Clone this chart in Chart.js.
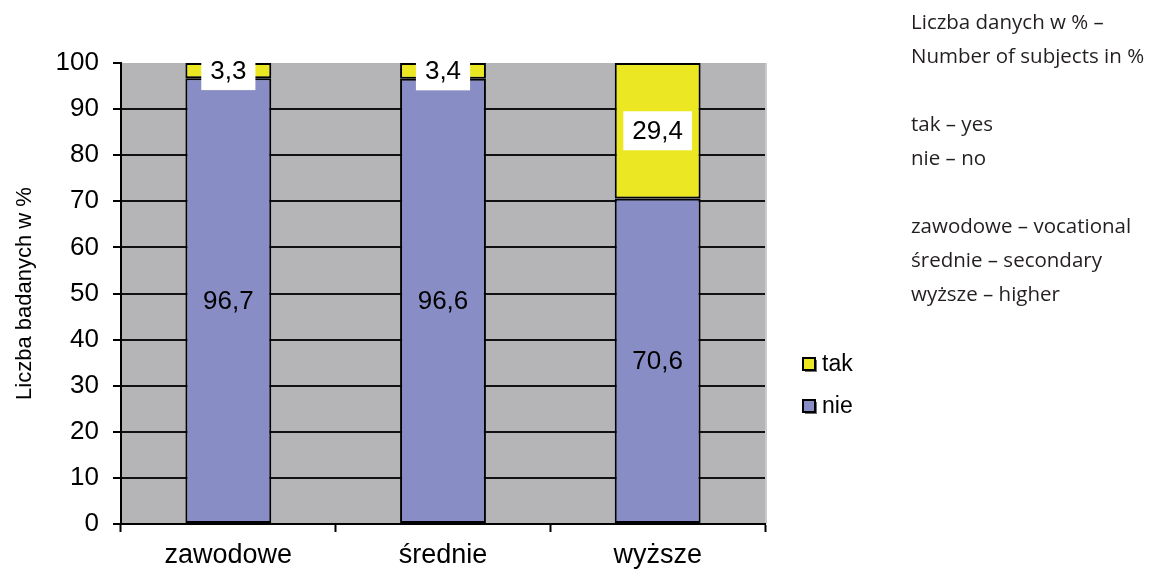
<!DOCTYPE html>
<html>
<head>
<meta charset="utf-8">
<script src="https://cdn.jsdelivr.net/npm/chart.js@4/dist/chart.umd.min.js"></script>
<style>
  html, body { margin: 0; padding: 0; background: #fff; }
  #wrap { position: relative; width: 1163px; height: 573px; }
  #c { position: absolute; left: 0; top: 0; }
  #notes {
    position: absolute; left: 911px; top: 4px;
    font-family: "Open Sans", Lato, sans-serif; font-size: 20.5px;
    line-height: 34px; color: #231f20; white-space: pre;
  }
</style>
</head>
<body>
<div id="wrap">
  <canvas id="c" width="1163" height="573"></canvas>
  <div id="notes">Liczba danych w % –
Number of subjects in %

tak – yes
nie – no

zawodowe – vocational
średnie – secondary
wyższe – higher</div>
</div>
<script>
// education level categories and answer shares (%)
const categories = ['zawodowe', 'średnie', 'wyższe'];
const nieValues = [96.7, 96.6, 70.6];
const takValues = [3.3, 3.4, 29.4];
const yTicks = [0, 10, 20, 30, 40, 50, 60, 70, 80, 90, 100];

const FONT = '"Liberation Sans", Arial, sans-serif';

// grey plot background
const plotBackground = {
  id: 'plotBackground',
  beforeDraw(chart) {
    const { ctx, chartArea: a } = chart;
    ctx.save();
    ctx.fillStyle = '#b5b5b7';
    ctx.fillRect(a.left, a.top, a.right - a.left, a.bottom - a.top);
    ctx.fillStyle = '#c9c9cb';
    ctx.fillRect(a.right, a.top, 2, a.bottom - a.top);
    ctx.restore();
  }
};

// value labels centred in each segment, decimal comma
const segmentLabels = {
  id: 'segmentLabels',
  afterDatasetsDraw(chart) {
    const { ctx } = chart;
    ctx.save();
    ctx.font = '26px ' + FONT;
    ctx.textAlign = 'center';
    ctx.textBaseline = 'middle';
    chart.data.datasets.forEach((ds, i) => {
      const meta = chart.getDatasetMeta(i);
      meta.data.forEach((bar, j) => {
        const text = String(ds.data[j]).replace('.', ',');
        const cx = bar.x;
        const cy = (bar.y + bar.base) / 2;
        if (ds.labelBox) {
          const w = ctx.measureText(text).width + 18;
          const h = 39;
          ctx.fillStyle = '#ffffff';
          ctx.fillRect(cx - w / 2, cy - h / 2, w, h);
        }
        ctx.fillStyle = '#000000';
        ctx.fillText(text, cx, cy + 1);
      });
    });
    ctx.restore();
  }
};

// legend on the right of the plot, top series first
const sideLegend = {
  id: 'sideLegend',
  afterDraw(chart) {
    const { ctx } = chart;
    const items = chart.data.datasets.slice().reverse();
    ctx.save();
    ctx.font = '23px ' + FONT;
    ctx.textBaseline = 'middle';
    items.forEach((ds, k) => {
      const x = 803, y = 365 + k * 42;
      ctx.fillStyle = '#6e6e6e';
      ctx.fillRect(x + 2, y - 5, 12, 12);
      ctx.fillStyle = ds.backgroundColor;
      ctx.fillRect(x, y - 7, 12, 12);
      ctx.lineWidth = 2;
      ctx.strokeStyle = '#000';
      ctx.strokeRect(x, y - 7, 12, 12);
      ctx.fillStyle = '#000';
      ctx.fillText(ds.label, x + 19, y);
    });
    ctx.restore();
  }
};

new Chart(document.getElementById('c'), {
  type: 'bar',
  data: {
    labels: categories,
    datasets: [
      {
        label: 'nie', data: nieValues,
        backgroundColor: '#888dc5', borderColor: '#000', borderWidth: 2,
        borderSkipped: false, barPercentage: 0.4, categoryPercentage: 1
      },
      {
        label: 'tak', data: takValues, labelBox: true,
        backgroundColor: '#ebe823', borderColor: '#000', borderWidth: 2,
        borderSkipped: false, barPercentage: 0.4, categoryPercentage: 1
      }
    ]
  },
  options: {
    responsive: false,
    animation: false,
    layout: { padding: { left: 0, top: 63, right: 398, bottom: 0 } },
    plugins: { legend: { display: false }, tooltip: { enabled: false } },
    scales: {
      x: {
        stacked: true,
        afterFit(s) { s.height = 49; },
        border: { color: '#000', width: 2 },
        grid: { drawOnChartArea: false, drawTicks: true, tickLength: 8, tickColor: '#000', tickWidth: 2 },
        ticks: { color: '#000', font: { family: FONT, size: 27 }, padding: 7 }
      },
      y: {
        stacked: true, min: 0, max: 100,
        afterFit(s) { s.width = 121; },
        afterBuildTicks(s) { s.ticks = yTicks.map(v => ({ value: v })); },
        border: { color: '#000', width: 2 },
        grid: {
          color: ctx => (ctx.tick && (ctx.tick.value === 100 || ctx.tick.value === 0)) ? 'rgba(0,0,0,0)' : '#111',
          lineWidth: 2, tickLength: 8, tickColor: '#000', tickWidth: 2
        },
        ticks: { color: '#000', font: { family: FONT, size: 26 }, padding: 14 },
        title: {
          display: true, text: 'Liczba badanych w %', color: '#000',
          font: { family: FONT, size: 22 }, padding: { top: 12, bottom: 0 }
        }
      }
    }
  },
  plugins: [plotBackground, segmentLabels, sideLegend]
});
</script>
</body>
</html>
